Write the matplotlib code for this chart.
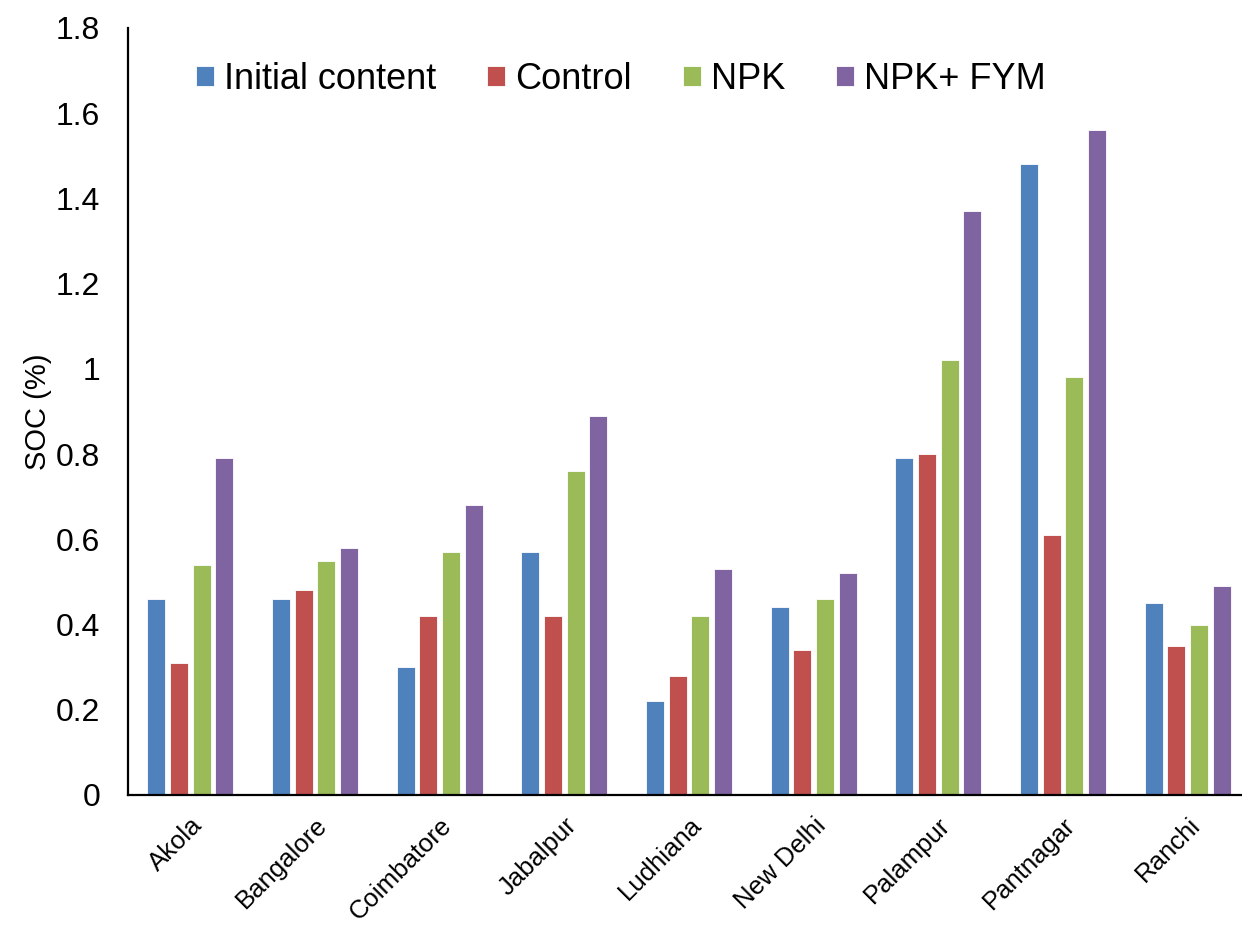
import matplotlib
matplotlib.use('Agg')
import matplotlib.pyplot as plt
import numpy as np

sites = ['Akola', 'Bangalore', 'Coimbatore', 'Jabalpur', 'Ludhiana',
         'New Delhi', 'Palampur', 'Pantnagar', 'Ranchi']
initial = [0.46, 0.46, 0.30, 0.57, 0.22, 0.44, 0.79, 1.48, 0.45]
control = [0.31, 0.48, 0.42, 0.42, 0.28, 0.34, 0.80, 0.61, 0.35]
npk = [0.54, 0.55, 0.57, 0.76, 0.42, 0.46, 1.02, 0.98, 0.40]
npk_fym = [0.79, 0.58, 0.68, 0.89, 0.53, 0.52, 1.37, 1.56, 0.49]
series_names = ['Initial content', 'Control', 'NPK', 'NPK+ FYM']
colors = ['#4F81BD', '#C0504D', '#9BBB59', '#8064A2']


def main():
    plt.rcParams['font.family'] = ['Liberation Sans', 'DejaVu Sans']
    fig = plt.figure(figsize=(12.42, 9.27), dpi=100)
    ax = fig.add_axes([0.103, 0.1424, 0.9034, 0.8276])

    x = np.arange(len(sites))
    stride = 0.182
    width = 0.145
    for i, (vals, name, c) in enumerate(zip([initial, control, npk, npk_fym],
                                            series_names, colors)):
        ax.bar(x + (i - 1.5) * stride, vals, width, color=c, label=name,
               edgecolor='white', linewidth=0.6)

    ax.set_xlim(-0.5, 8.5)
    ax.set_ylim(0, 1.8)
    ax.set_yticks(np.arange(0, 1.81, 0.2))
    ax.set_yticklabels(['0', '0.2', '0.4', '0.6', '0.8', '1', '1.2', '1.4', '1.6', '1.8'])
    ax.set_xticks(x)
    ax.set_xticklabels(sites, rotation=45, ha='right', rotation_mode='anchor',
                       fontsize=18.5)
    ax.tick_params(axis='y', length=0, labelsize=23, pad=20)
    ax.tick_params(axis='x', length=0, pad=13)
    ax.set_ylabel('SOC (%)', fontsize=21, labelpad=3)

    for s in ['top', 'right']:
        ax.spines[s].set_visible(False)
    for s in ['left', 'bottom']:
        ax.spines[s].set_linewidth(1.6)
        ax.spines[s].set_color('black')

    ax.legend(loc='upper left', bbox_to_anchor=(0.032, 0.998), ncol=4,
              frameon=False, fontsize=26, handlelength=0.5, handleheight=0.5,
              handletextpad=0.28, columnspacing=1.4)

    fig.savefig('out.png')


if __name__ == '__main__':
    main()
